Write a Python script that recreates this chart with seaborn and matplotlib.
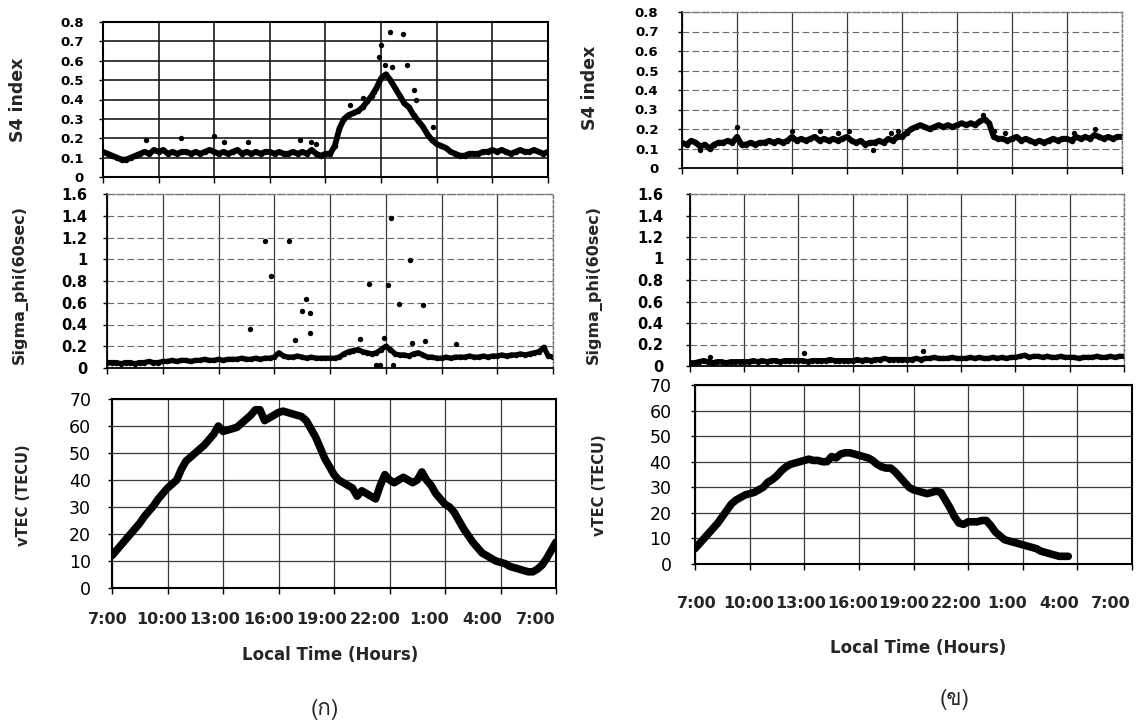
import numpy as np
import matplotlib
matplotlib.use("Agg")
import matplotlib.pyplot as plt
import matplotlib.transforms as mtrans
import seaborn as sns
from matplotlib import font_manager
from matplotlib.ft2font import FT2Font

# ---------------- data ----------------
hour_ticks = [7, 10, 13, 16, 19, 22, 25, 28, 31]
hour_labels = ["7:00", "10:00", "13:00", "16:00", "19:00", "22:00", "1:00", "4:00", "7:00"]
hours = np.arange(7.0, 31.001, 0.25)   # 15-minute samples, 7:00 -> 7:00 next day

# (ก) S4 index
s4_a = [0.13, 0.12, 0.11, 0.10, 0.09, 0.09, 0.10, 0.11, 0.12, 0.13, 0.12, 0.14,
        0.13, 0.14, 0.12, 0.13, 0.12, 0.13, 0.13, 0.12, 0.13, 0.12, 0.13, 0.14,
        0.13, 0.12, 0.13, 0.12, 0.13, 0.14, 0.12, 0.13, 0.12, 0.13, 0.12, 0.13,
        0.13, 0.12, 0.13, 0.12, 0.12, 0.13, 0.12, 0.13, 0.12, 0.14, 0.12, 0.11,
        0.12, 0.12, 0.16, 0.25, 0.30, 0.32, 0.33, 0.34, 0.36, 0.39, 0.42, 0.46,
        0.51, 0.53, 0.50, 0.46, 0.42, 0.38, 0.36, 0.32, 0.29, 0.26, 0.22, 0.19,
        0.17, 0.16, 0.15, 0.13, 0.12, 0.11, 0.11, 0.12, 0.12, 0.12, 0.13, 0.13,
        0.14, 0.13, 0.14, 0.13, 0.12, 0.13, 0.14, 0.13, 0.13, 0.14, 0.13, 0.12,
        0.13]
s4_a_scatter_t = [9.3, 11.2, 13.0, 13.5, 14.8, 17.6, 18.2, 18.5, 20.3, 21.0, 21.6, 21.9,
                  22.0, 22.2, 22.5, 22.6, 23.2, 23.4, 23.8, 23.9, 24.8]
s4_a_scatter_v = [0.19, 0.20, 0.21, 0.18, 0.18, 0.19, 0.18, 0.17, 0.37, 0.41, 0.44, 0.62,
                  0.68, 0.58, 0.75, 0.57, 0.74, 0.58, 0.45, 0.40, 0.26]

# (ก) Sigma_phi
sig_a = [0.05, 0.05, 0.05, 0.04, 0.05, 0.05, 0.04, 0.05, 0.05, 0.06, 0.05, 0.05,
         0.06, 0.06, 0.07, 0.06, 0.07, 0.07, 0.06, 0.07, 0.07, 0.08, 0.07, 0.07,
         0.08, 0.07, 0.08, 0.08, 0.08, 0.09, 0.08, 0.08, 0.09, 0.08, 0.09, 0.09,
         0.10, 0.14, 0.11, 0.10, 0.10, 0.11, 0.10, 0.09, 0.10, 0.09, 0.09, 0.09,
         0.09, 0.09, 0.10, 0.13, 0.15, 0.16, 0.17, 0.15, 0.14, 0.13, 0.14, 0.17,
         0.20, 0.17, 0.13, 0.12, 0.12, 0.11, 0.13, 0.14, 0.12, 0.10, 0.10, 0.09,
         0.09, 0.10, 0.09, 0.10, 0.10, 0.10, 0.11, 0.10, 0.10, 0.11, 0.10, 0.11,
         0.11, 0.12, 0.11, 0.12, 0.12, 0.13, 0.12, 0.13, 0.14, 0.15, 0.19, 0.11,
         0.10]
sig_a_scatter_t = [14.7, 15.5, 15.8, 16.8, 17.1, 17.5, 17.7, 17.9, 17.9, 20.6, 21.1, 21.5,
                   21.7, 21.9, 22.1, 22.3, 22.4, 22.7, 23.3, 23.4, 24.0, 24.1, 25.8]
sig_a_scatter_v = [0.36, 1.17, 0.85, 1.17, 0.26, 0.52, 0.63, 0.51, 0.32, 0.27, 0.77, 0.03,
                   0.03, 0.28, 0.76, 1.38, 0.03, 0.59, 0.99, 0.23, 0.58, 0.25, 0.22]

# (ก) vTEC
tec_a = [12, 14, 16, 18, 20, 22, 24, 26.5, 28.5, 30.5, 33, 35,
         37, 38.5, 40, 44, 47, 48.5, 50, 51.5, 53, 55, 57, 60,
         58, 58.5, 59, 59.5, 61, 62.5, 64, 66, 66, 62, 63, 64,
         65, 65.5, 65, 64.5, 64, 63.5, 62, 59, 56, 52, 48, 45,
         42, 40, 39, 38, 37, 34, 36, 35, 34, 33, 38, 42,
         40, 39, 40, 41, 40, 39, 40, 43, 40, 38, 35, 33,
         31, 30, 28, 25, 22, 19.5, 17, 15, 13, 12, 11, 10,
         9.5, 9, 8, 7.5, 7, 6.5, 6, 6, 7, 8.5, 11, 14,
         17]

# (ข) S4 index
s4_b = [0.13, 0.12, 0.14, 0.13, 0.11, 0.12, 0.10, 0.12, 0.13, 0.13, 0.14, 0.13,
        0.16, 0.12, 0.12, 0.13, 0.12, 0.13, 0.13, 0.14, 0.13, 0.14, 0.13, 0.14,
        0.16, 0.14, 0.15, 0.14, 0.15, 0.16, 0.14, 0.15, 0.14, 0.15, 0.14, 0.15,
        0.16, 0.14, 0.13, 0.14, 0.12, 0.13, 0.13, 0.14, 0.13, 0.15, 0.14, 0.16,
        0.16, 0.18, 0.20, 0.21, 0.22, 0.21, 0.20, 0.21, 0.22, 0.21, 0.22, 0.21,
        0.22, 0.23, 0.22, 0.23, 0.22, 0.24, 0.25, 0.23, 0.16, 0.15, 0.15, 0.14,
        0.15, 0.16, 0.14, 0.15, 0.14, 0.13, 0.14, 0.13, 0.14, 0.15, 0.14, 0.15,
        0.15, 0.14, 0.16, 0.15, 0.16, 0.15, 0.17, 0.16, 0.15, 0.16, 0.15, 0.16,
        0.16]
s4_b_scatter_t = [8.0, 10.0, 13.0, 14.5, 15.5, 16.1, 17.4, 18.4, 18.8, 23.4, 24.0, 24.6,
                  28.4, 29.5]
s4_b_scatter_v = [0.09, 0.21, 0.19, 0.19, 0.18, 0.19, 0.09, 0.18, 0.19, 0.27, 0.19, 0.18,
                  0.18, 0.20]

# (ข) Sigma_phi
sig_b = [0.03, 0.03, 0.04, 0.05, 0.04, 0.03, 0.04, 0.04, 0.03, 0.04, 0.04, 0.04,
         0.04, 0.04, 0.05, 0.04, 0.05, 0.04, 0.05, 0.05, 0.04, 0.05, 0.05, 0.05,
         0.05, 0.05, 0.04, 0.05, 0.05, 0.05, 0.05, 0.06, 0.05, 0.05, 0.05, 0.05,
         0.05, 0.06, 0.05, 0.06, 0.05, 0.06, 0.06, 0.07, 0.06, 0.06, 0.06, 0.06,
         0.06, 0.06, 0.07, 0.06, 0.07, 0.07, 0.08, 0.07, 0.07, 0.07, 0.08, 0.07,
         0.07, 0.07, 0.08, 0.07, 0.08, 0.07, 0.07, 0.08, 0.07, 0.08, 0.07, 0.08,
         0.08, 0.09, 0.10, 0.08, 0.09, 0.09, 0.08, 0.09, 0.08, 0.08, 0.09, 0.08,
         0.08, 0.08, 0.07, 0.08, 0.08, 0.08, 0.09, 0.08, 0.08, 0.09, 0.08, 0.09,
         0.09]
sig_b_scatter_t = [8.1, 13.3, 19.9]
sig_b_scatter_v = [0.08, 0.12, 0.14]

# (ข) vTEC (record ends near 3:30)
tec_b = [6, 8, 10, 12, 14, 16, 18.5, 21, 23.5, 25, 26, 27,
         27.5, 28, 29, 30, 32, 33, 34.5, 36.5, 38, 39, 39.5, 40,
         40.5, 41, 40.5, 40.5, 40, 40, 42, 41.5, 43, 43.5, 43.5, 43,
         42.5, 42, 41.5, 40.5, 39, 38, 37.5, 37.5, 36, 34, 32, 30,
         29, 28.5, 28, 27.5, 28, 28.5, 28, 25, 22, 18.5, 16, 15.5,
         16.5, 16.5, 16.5, 17, 17, 15, 12.5, 11, 9.5, 9, 8.5, 8,
         7.5, 7, 6.5, 6, 5, 4.5, 4, 3.5, 3, 3, 3]

# ---------------- fonts ----------------
sns.set_theme(style="white")
plt.rcParams["font.family"] = ["DejaVu Sans"]


def font_with(ch):
    for f in font_manager.fontManager.ttflist:
        try:
            if FT2Font(f.fname).get_char_index(ord(ch)):
                return f.name
        except Exception:
            pass
    return "DejaVu Sans"


thai_family = font_with("ก")

# ---------------- figure ----------------
W, H = 1145, 726
fig = plt.figure(figsize=(W / 100, H / 100), dpi=100)
fig.patch.set_facecolor("white")


def box(l, t, r, b):
    return fig.add_axes([l / W, 1 - b / H, (r - l) / W, (b - t) / H])


def setup(ax, ymax, ystep, ysize, yweight, ypad, hgrid, vgrid, main_sp, soft_sp):
    ax.set_xlim(7, 31)
    ax.set_ylim(0, ymax)
    ax.set_xticks(hour_ticks)
    ax.set_xticklabels([])
    yt = np.round(np.arange(0, ymax + ystep / 2, ystep), 2)
    ax.set_yticks(yt)
    ax.set_yticklabels([f"{v:g}" for v in yt], fontsize=ysize, fontweight=yweight)
    ax.tick_params(axis="y", left=True, length=3, width=1, pad=ypad, colors="black")
    ax.tick_params(axis="x", bottom=True, length=4, width=1, colors="black")
    ax.yaxis.grid(True, **hgrid)
    ax.xaxis.grid(True, **vgrid)
    ax.set_axisbelow(True)
    for side, sp in ax.spines.items():
        st = main_sp if side in main_sp["sides"] else soft_sp
        sp.set_visible(True)
        sp.set_color(st["color"])
        sp.set_linewidth(st["lw"])
        sp.set_linestyle(st["ls"])
    ax.set_xlabel("")
    ax.set_ylabel("")


def xlabels(ax, pad_px, first_dx, last_dx, size):
    n = len(hour_ticks) - 1
    for i, (t, lab) in enumerate(zip(hour_ticks, hour_labels)):
        dx = first_dx + (last_dx - first_dx) * i / n
        tr = mtrans.offset_copy(ax.get_xaxis_transform(), fig=fig, x=dx, y=-pad_px, units="dots")
        ax.text(t, 0, lab, transform=tr, ha="center", va="top", fontsize=size, fontweight="bold")


solid_dark = dict(color="#1a1a1a", lw=1.2, ls="-")
solid_mid = dict(color="#3a3a3a", lw=0.9, ls="-")
dash_soft = dict(color="#6a6a6a", lw=0.8, ls=(0, (6, 3)))
main_all = dict(sides=("left", "bottom", "top", "right"), color="black", lw=1.5, ls="-")
main_lb = dict(sides=("left", "bottom"), color="black", lw=1.3, ls="-")
soft = dict(color="#777777", lw=1.0, ls=(0, (2, 1.5)))

line_kw = dict(color="black", estimator=None, marker="o", markersize=4, markeredgewidth=0)
dot_kw = dict(color="black", s=15, linewidth=0)

# ----- (ก) column -----
a1 = box(103, 22, 548, 177)
sns.lineplot(x=hours, y=s4_a, ax=a1, lw=4.2, **line_kw)
sns.scatterplot(x=s4_a_scatter_t, y=s4_a_scatter_v, ax=a1, **dot_kw)
setup(a1, 0.8, 0.1, 9.5, "bold", 11, solid_dark, solid_dark, main_all, soft)

a2 = box(107, 194, 553, 368)
sns.lineplot(x=hours, y=sig_a, ax=a2, lw=3.8, **line_kw)
sns.scatterplot(x=sig_a_scatter_t, y=sig_a_scatter_v, ax=a2, **dot_kw)
setup(a2, 1.6, 0.2, 10.5, "bold", 11, dash_soft, solid_mid, main_lb, soft)

a3 = box(112, 399, 556, 588)
sns.lineplot(x=hours, y=tec_a, ax=a3, lw=5.5, color="black", estimator=None)
setup(a3, 70, 10, 12.5, "normal", 12, solid_mid, solid_mid, main_all, soft)
xlabels(a3, 24, -4, -20, 11.5)

# ----- (ข) column -----
b1 = box(682, 12, 1122, 168)
sns.lineplot(x=hours, y=s4_b, ax=b1, lw=4.2, **line_kw)
sns.scatterplot(x=s4_b_scatter_t, y=s4_b_scatter_v, ax=b1, **dot_kw)
setup(b1, 0.8, 0.1, 9.5, "bold", 14, dash_soft, solid_mid, main_lb, soft)

b2 = box(690, 194, 1124, 366)
sns.lineplot(x=hours, y=sig_b, ax=b2, lw=3.8, **line_kw)
sns.scatterplot(x=sig_b_scatter_t, y=sig_b_scatter_v, ax=b2, **dot_kw)
setup(b2, 1.6, 0.2, 10.5, "bold", 16, dash_soft, solid_mid, main_lb, soft)

b3 = box(695, 385, 1132, 564)
sns.lineplot(x=hours[:len(tec_b)], y=tec_b, ax=b3, lw=5.5, color="black", estimator=None)
setup(b3, 70, 10, 12.5, "normal", 14, solid_mid, solid_mid, main_all, soft)
xlabels(b3, 32, 2, -21, 11.5)

# ----- axis titles -----
def ylab(x, y, s, size):
    fig.text(x / W, 1 - y / H, s, rotation=90, ha="center", va="center",
             fontsize=size, fontweight="bold")


ylab(18, 100, "S4 index", 12.5)
ylab(20, 285, "Sigma_phi(60sec)", 11.5)
ylab(24, 495, "vTEC (TECU)", 10.5)
ylab(590, 88, "S4 index", 12.5)
ylab(594, 285, "Sigma_phi(60sec)", 11.5)
ylab(600, 485, "vTEC (TECU)", 10.5)

fig.text(330 / W, 1 - 655 / H, "Local Time (Hours)", ha="center", va="center",
         fontsize=12, fontweight="bold")
fig.text(918 / W, 1 - 648 / H, "Local Time (Hours)", ha="center", va="center",
         fontsize=12, fontweight="bold")
fig.text(325 / W, 1 - 710 / H, "(ก)", ha="center", va="center", fontsize=16,
         family=[thai_family, "DejaVu Sans"])
fig.text(955 / W, 1 - 700 / H, "(ข)", ha="center", va="center", fontsize=16,
         family=[thai_family, "DejaVu Sans"])

fig.savefig("out.png", dpi=100, facecolor="white")
